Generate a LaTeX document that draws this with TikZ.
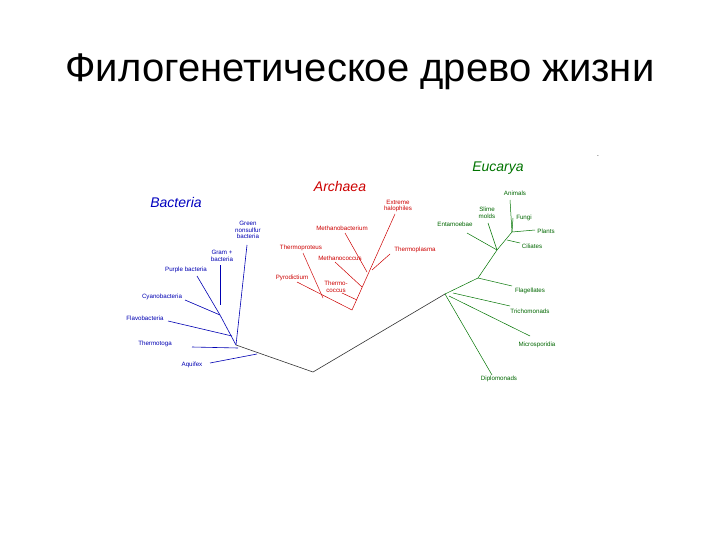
\documentclass[tikz,border=0pt]{standalone}
\usepackage{fontspec}
\setmainfont{Liberation Sans}
\begin{document}
\begin{tikzpicture}[x=1pt,y=-1pt,
 lb/.style={font=\fontsize{6.2}{6.6}\selectfont,align=center,inner sep=0.5pt},
 ttl/.style={font=\fontsize{14}{14}\selectfont\itshape},
 bl/.style={draw=blue!70!black,line width=0.6pt},
 rl/.style={draw=red!80!black,line width=0.5pt},
 gl/.style={draw=green!45!black,line width=0.5pt},
 kl/.style={draw=black!80,line width=0.6pt}]
\useasboundingbox (0,0) rectangle (720,540);
\node[font=\fontsize{40}{44}\selectfont] (title) at (360,72) {Филогенетическое древо жизни};
% Bacteria
\node[ttl,text=blue!75!black] (tb) at (176,202) {Bacteria};
\begin{scope}[lb,text=blue!70!black]
\node (gn) at (248,230) {Green\\nonsulfur\\bacteria};
\node (gp) at (222,256) {Gram +\\bacteria};
\node (pb) at (186,270) {Purple bacteria};
\node (cy) at (162,297) {Cyanobacteria};
\node (fl) at (145,318) {Flavobacteria};
\node (tt) at (155,344) {Thermotoga};
\node (aq) at (192,365) {Aquifex};
\end{scope}
\coordinate (bn) at (236,345);
\coordinate (b1) at (220,315);
\coordinate (b2) at (232,336);
\coordinate (aqj) at (257,354);
\coordinate (root) at (313,372);
\coordinate (ej) at (445,294);
\draw[bl] (247,245) -- (bn);
\draw[bl] (220,265) -- (220,305);
\draw[bl] (197,276) -- (b1) -- (bn);
\draw[bl] (185,300) -- (b1);
\draw[bl] (168,321) -- (b2);
\draw[bl] (192,347) -- (238,348);
\draw[bl] (210,363) -- (aqj);
\draw[kl] (bn) -- (root) -- (ej);
% Archaea
\node[ttl,text=red!80!black] (ta) at (340,186) {Archaea};
\begin{scope}[lb,text=red!80!black]
\node (eh) at (398,206) {Extreme\\halophiles};
\node (mb) at (342,228) {Methanobacterium};
\node (tp) at (301,248) {Thermoproteus};
\node (mc) at (340,258) {Methanococcus};
\node (tm) at (415,250) {Thermoplasma};
\node (py) at (292,278) {Pyrodictium};
\node (tc) at (336,287) {Thermo-\\coccus};
\end{scope}
\coordinate (an) at (352,310);
\draw[rl] (an) -- (395,214);
\draw[rl] (345,233) -- (367,272);
\draw[rl] (390,254) -- (372,270);
\draw[rl] (335,262) -- (362,287);
\draw[rl] (342,293) -- (357,300);
\draw[rl] (303,253) -- (323,298);
\draw[rl] (297,282) -- (an);
% Eucarya
\node[ttl,text=green!45!black] (te) at (498,168) {Eucarya};
\node[font=\tiny] (dash) at (598,157) {-};
\begin{scope}[lb,text=green!40!black]
\node (anm) at (515,193) {Animals};
\node (sm) at (487,213) {Slime\\molds};
\node (fu) at (524,218) {Fungi};
\node (pl) at (546,231) {Plants};
\node (ci) at (532,246) {Ciliates};
\node (en) at (455,224) {Entamoebae};
\node (fg) at (530,291) {Flagellates};
\node (tr) at (530,311) {Trichomonads};
\node (mi) at (537,345) {Microsporidia};
\node (di) at (499,379) {Diplomonads};
\end{scope}
\coordinate (e1) at (478,278);
\coordinate (e2) at (497,250);
\coordinate (e3) at (512,232);
\draw[gl] (ej) -- (e1) -- (e2) -- (e3);
\draw[gl] (ej) -- (492,375);
\draw[gl] (449,296) -- (530,336);
\draw[gl] (453,293) -- (510,306);
\draw[gl] (e1) -- (512,286);
\draw[gl] (467,233) -- (e2);
\draw[gl] (488,223) -- (e2);
\draw[gl] (507,240) -- (520,243);
\draw[gl] (510,200) -- (e3);
\draw[gl] (513,218) -- (e3);
\draw[gl] (e3) -- (535,230);
\end{tikzpicture}
\end{document}
